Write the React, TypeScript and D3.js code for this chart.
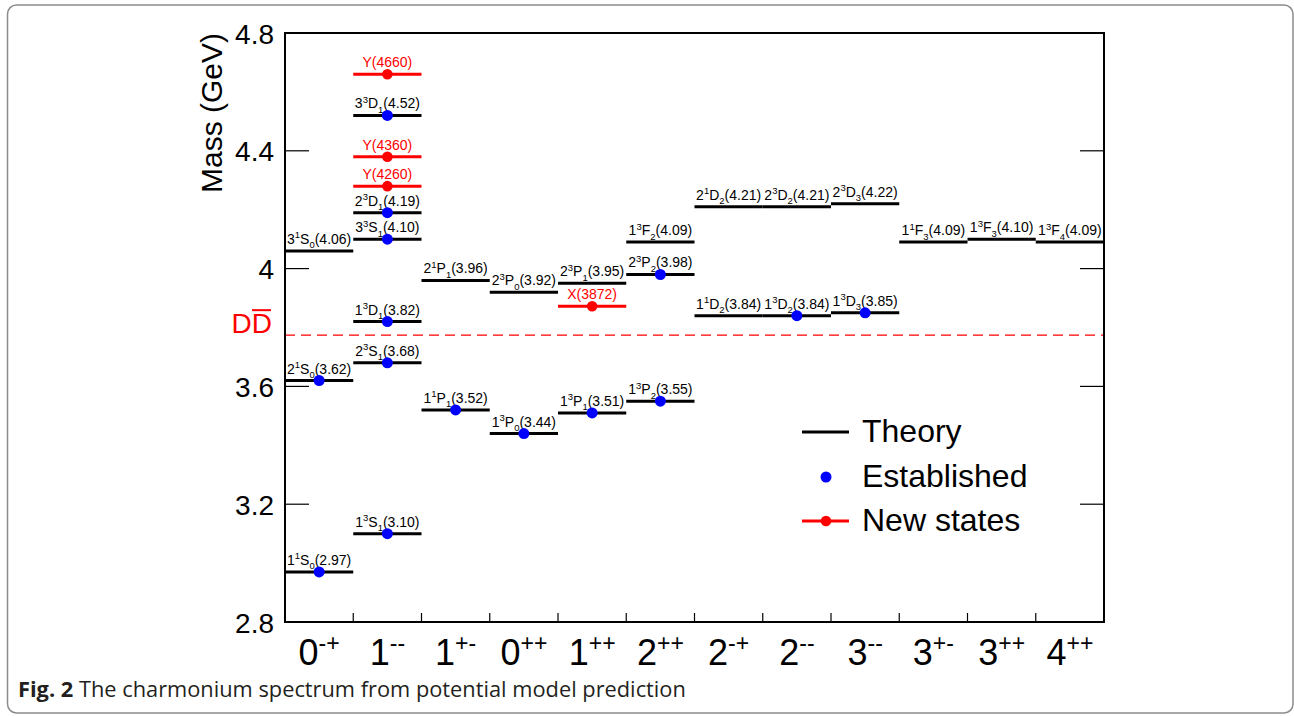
import React from "react";
import * as d3 from "d3";

// Categories (J^PC)
const categoryBase = ["0", "1", "1", "0", "1", "2", "2", "2", "3", "3", "3", "4"];
const categoryParity = ["-+", "--", "+-", "++", "++", "++", "-+", "--", "--", "+-", "++", "++"];

// Theory levels: category index, n, 2S+1, L, J, mass (GeV)
const levelCategory = [0, 0, 0, 1, 1, 1, 1, 1, 1, 2, 2, 3, 3, 4, 4, 5, 5, 5, 6, 6, 7, 7, 8, 8, 9, 10, 11];
const levelN = ["1", "2", "3", "1", "2", "1", "3", "2", "3", "1", "2", "1", "2", "1", "2", "1", "2", "1", "1", "2", "1", "2", "1", "2", "1", "1", "1"];
const levelSpin = ["1", "1", "1", "3", "3", "3", "3", "3", "3", "1", "1", "3", "3", "3", "3", "3", "3", "3", "1", "1", "3", "3", "3", "3", "1", "3", "3"];
const levelL = ["S", "S", "S", "S", "S", "D", "S", "D", "D", "P", "P", "P", "P", "P", "P", "P", "P", "F", "D", "D", "D", "D", "D", "D", "F", "F", "F"];
const levelJ = ["0", "0", "0", "1", "1", "1", "1", "1", "1", "1", "1", "0", "0", "1", "1", "2", "2", "2", "2", "2", "2", "2", "3", "3", "3", "3", "4"];
const levelMass = [2.97, 3.62, 4.06, 3.10, 3.68, 3.82, 4.10, 4.19, 4.52, 3.52, 3.96, 3.44, 3.92, 3.51, 3.95, 3.55, 3.98, 4.09, 3.84, 4.21, 3.84, 4.21, 3.85, 4.22, 4.09, 4.10, 4.09];

// Established states (blue dots)
const establishedCategory = [0, 0, 1, 1, 1, 1, 1, 1, 2, 3, 4, 5, 5, 7, 8];
const establishedMass = [2.97, 3.62, 3.10, 3.68, 3.82, 4.10, 4.19, 4.52, 3.52, 3.44, 3.51, 3.55, 3.98, 3.84, 3.85];

// New states (red)
const newName = ["Y(4660)", "Y(4360)", "Y(4260)", "X(3872)"];
const newCategory = [1, 1, 1, 4];
const newMass = [4.66, 4.38, 4.28, 3.872];

// DD-bar threshold
const thresholdMass = [3.774];

// Axis ticks
const yTickValues = [2.8, 3.2, 3.6, 4.0, 4.4, 4.8];
const yTickLabels = ["2.8", "3.2", "3.6", "4", "4.4", "4.8"];

const legendLabels = ["Theory", "Established", "New states"];

const W = 1294;
const H = 716;
const plot = { left: 285, right: 1104, top: 33, bottom: 622 };
const FONT = "'Liberation Sans', Arial, Helvetica, sans-serif";

export default function App() {
  const x = d3
    .scaleBand<number>()
    .domain(d3.range(categoryBase.length))
    .range([plot.left, plot.right])
    .paddingInner(0)
    .paddingOuter(0);
  const y = d3.scaleLinear().domain([2.8, 4.8]).range([plot.bottom, plot.top]);
  const bw = x.bandwidth();
  const cx = (i: number) => (x(i) as number) + bw / 2;

  const boundaries = d3.range(1, categoryBase.length).map((i) => x(i) as number);

  return (
    <svg
      width={W}
      height={H}
      style={{ position: "absolute", left: 0, top: 0, background: "#fff" }}
      fontFamily={FONT}
    >
      {/* outer rounded border */}
      <rect x={7.5} y={5} width={1285.5} height={708} rx={9} fill="none" stroke="#8c8c8c" strokeWidth={1.5} />

      {/* DD-bar threshold */}
      {thresholdMass.map((m, i) => (
        <g key={"th" + i}>
          <line
            x1={plot.left}
            x2={plot.right}
            y1={y(m)}
            y2={y(m)}
            stroke="#ff0000"
            strokeWidth={1.2}
            strokeDasharray="10,6"
          />
          <text x={272} y={y(m) - 2} textAnchor="end" fontSize={28} fill="#ff0000">
            DD
          </text>
          <line x1={252} x2={271} y1={y(m) - 25} y2={y(m) - 25} stroke="#ff0000" strokeWidth={2} />
        </g>
      ))}

      {/* theory levels */}
      {levelMass.map((m, i) => {
        const c = levelCategory[i];
        const yy = y(m);
        return (
          <g key={"lv" + i}>
            <line x1={x(c) as number} x2={(x(c) as number) + bw} y1={yy} y2={yy} stroke="#000" strokeWidth={3} />
            <text x={cx(c)} y={yy - 7} textAnchor="middle" fontSize={14} fill="#000">
              <tspan>{levelN[i]}</tspan>
              <tspan dy={-5.5} fontSize={9.5}>{levelSpin[i]}</tspan>
              <tspan dy={5.5}>{levelL[i]}</tspan>
              <tspan dy={4.5} fontSize={9.5}>{levelJ[i]}</tspan>
              <tspan dy={-4.5}>{"(" + m.toFixed(2) + ")"}</tspan>
            </text>
          </g>
        );
      })}

      {/* new states */}
      {newMass.map((m, i) => {
        const c = newCategory[i];
        const yy = y(m);
        return (
          <g key={"nw" + i}>
            <line x1={x(c) as number} x2={(x(c) as number) + bw} y1={yy} y2={yy} stroke="#ff0000" strokeWidth={3} />
            <circle cx={cx(c)} cy={yy} r={5.3} fill="#ff0000" />
            <text x={cx(c)} y={yy - 7} textAnchor="middle" fontSize={14} fill="#ff0000">
              {newName[i]}
            </text>
          </g>
        );
      })}

      {/* established dots */}
      {establishedMass.map((m, i) => (
        <circle key={"es" + i} cx={cx(establishedCategory[i])} cy={y(m)} r={5.5} fill="#0000ff" />
      ))}

      {/* frame */}
      <rect
        x={plot.left}
        y={plot.top}
        width={plot.right - plot.left}
        height={plot.bottom - plot.top}
        fill="none"
        stroke="#000"
        strokeWidth={2}
      />

      {/* y ticks */}
      {yTickValues.map((v, i) => (
        <g key={"yt" + i}>
          <line x1={plot.left} x2={plot.left + 24} y1={y(v)} y2={y(v)} stroke="#000" strokeWidth={1.2} />
          <line x1={plot.right - 24} x2={plot.right} y1={y(v)} y2={y(v)} stroke="#000" strokeWidth={1.2} />
          <text x={274} y={y(v) + 10.5} textAnchor="end" fontSize={28} fill="#000">
            {yTickLabels[i]}
          </text>
        </g>
      ))}

      {/* x ticks */}
      {boundaries.map((bx, i) => (
        <line key={"xt" + i} x1={bx} x2={bx} y1={plot.bottom} y2={plot.bottom - 9} stroke="#000" strokeWidth={1.2} />
      ))}

      {/* x labels */}
      {categoryBase.map((b, i) => (
        <text key={"xl" + i} x={cx(i)} y={665} textAnchor="middle" fontSize={36} fill="#000">
          <tspan>{b}</tspan>
          <tspan dy={-14} fontSize={23}>{categoryParity[i]}</tspan>
        </text>
      ))}

      {/* y title */}
      <text transform={`translate(222,${plot.top}) rotate(-90)`} textAnchor="end" fontSize={30} fill="#000">
        Mass (GeV)
      </text>

      {/* legend */}
      <g>
        <line x1={802} x2={849} y1={432} y2={432} stroke="#000" strokeWidth={3} />
        <text x={862} y={442} fontSize={32} fill="#000">{legendLabels[0]}</text>
        <circle cx={826} cy={477} r={5.5} fill="#0000ff" />
        <text x={862} y={487} fontSize={32} fill="#000">{legendLabels[1]}</text>
        <line x1={802} x2={849} y1={521} y2={521} stroke="#ff0000" strokeWidth={3} />
        <circle cx={826} cy={521} r={5.3} fill="#ff0000" />
        <text x={862} y={531} fontSize={32} fill="#000">{legendLabels[2]}</text>
      </g>

      {/* caption */}
      <text x={18} y={697} fontSize={21.8} fill="#231f20" fontFamily="'Open Sans', 'Noto Sans', sans-serif">
        <tspan fontWeight="bold">Fig. 2</tspan>
        <tspan> The charmonium spectrum from potential model prediction</tspan>
      </text>
    </svg>
  );
}
